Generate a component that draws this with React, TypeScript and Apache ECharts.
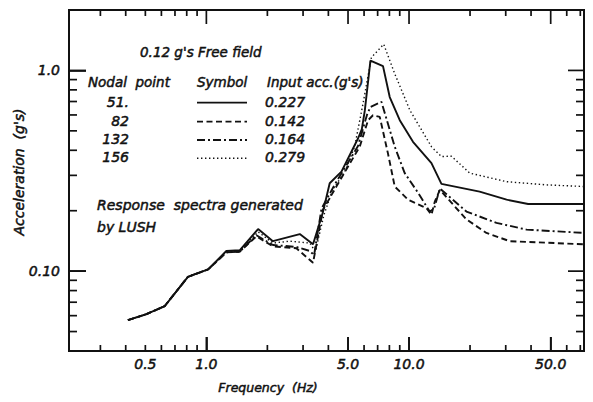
import { useEffect, useRef } from "react";
import * as echarts from "echarts";

// ---- axis ranges and tick values ----
const X_MIN = 0.21;
const X_MAX = 73;
const Y_MIN = 0.04;
const Y_MAX = 2;
const X_LABEL_VALUES = [0.5, 1, 5, 10, 50];
const X_LABEL_TEXTS = ["0.5", "1.0", "5.0", "10.0", "50.0"];
const X_MAJOR_TICKS = [1, 5, 10, 50];
const X_MINOR_TICKS = [0.3, 0.4, 0.5, 0.6, 0.7, 0.8, 0.9, 2, 3, 4, 6, 7, 8, 9, 20, 30, 40, 60, 70];
const Y_LABEL_VALUES = [0.1, 1];
const Y_LABEL_TEXTS = ["0.10", "1.0"];
const Y_MAJOR_TICKS = [0.1, 1];
const Y_MINOR_TICKS = [0.05, 0.06, 0.07, 0.08, 0.09, 0.2, 0.3, 0.4, 0.5, 0.6, 0.7, 0.8, 0.9];

// ---- legend table ----
const NODAL_POINTS = ["51.", "82", "132", "156"];
const INPUT_ACC = ["0.227", "0.142", "0.164", "0.279"];

// ---- series: [frequency Hz, acceleration g's] ----
const NODE_51: [number, number][] = [
  [0.41, 0.057], [0.506, 0.061], [0.623, 0.067], [0.811, 0.0937], [1.02, 0.102],
  [1.255, 0.126], [1.46, 0.127], [1.8, 0.162], [2.13, 0.141], [2.89, 0.153],
  [3.36, 0.136], [3.75, 0.195], [4.06, 0.274], [4.64, 0.313], [5.6, 0.458],
  [5.85, 0.51], [6.05, 0.63], [6.45, 1.12], [7.44, 1.05], [8.03, 0.737],
  [9.0, 0.565], [10.46, 0.441], [12.9, 0.345], [14.45, 0.272], [22.3, 0.249],
  [30.3, 0.227], [38.7, 0.216], [73, 0.216],
];
const NODE_82: [number, number][] = [
  [0.41, 0.057], [0.506, 0.061], [0.623, 0.067], [0.811, 0.0937], [1.02, 0.102],
  [1.255, 0.124], [1.46, 0.125], [1.765, 0.149], [2.13, 0.133], [2.78, 0.13],
  [3.36, 0.11], [3.76, 0.202], [4.38, 0.264], [5.71, 0.417], [6.28, 0.565],
  [6.64, 0.598], [7.17, 0.587], [7.87, 0.386], [8.5, 0.264], [9.89, 0.227],
  [12.2, 0.206], [12.9, 0.191], [13.4, 0.222], [14.2, 0.254], [19.2, 0.181],
  [24.1, 0.155], [31.4, 0.141], [73, 0.136],
];
const NODE_132: [number, number][] = [
  [0.41, 0.057], [0.506, 0.061], [0.623, 0.067], [0.811, 0.0937], [1.02, 0.102],
  [1.255, 0.124], [1.46, 0.125], [1.765, 0.151], [2.13, 0.135], [2.78, 0.132],
  [3.24, 0.126], [3.4, 0.12], [3.7, 0.205], [4.3, 0.27], [5.6, 0.42],
  [6.2, 0.6], [6.45, 0.658], [7.31, 0.697], [8.5, 0.417], [9.52, 0.308],
  [11.1, 0.245], [12.65, 0.198], [13.3, 0.205], [14.2, 0.258], [19.2, 0.198],
  [27.0, 0.174], [38.0, 0.161], [73, 0.155],
];
const NODE_156: [number, number][] = [
  [0.41, 0.057], [0.506, 0.061], [0.623, 0.067], [0.811, 0.0937], [1.02, 0.102],
  [1.255, 0.125], [1.46, 0.126], [1.8, 0.157], [2.13, 0.138], [2.58, 0.141],
  [3.24, 0.138], [3.45, 0.125], [3.8, 0.19], [4.2, 0.255], [4.8, 0.31],
  [5.39, 0.417], [5.93, 0.684], [6.52, 1.16], [7.5, 1.35], [8.5, 0.963],
  [10.1, 0.633], [12.9, 0.417], [14.45, 0.372], [16.2, 0.374], [19.9, 0.308],
  [30.3, 0.279], [47.7, 0.269], [73, 0.264],
];

const INK = "#111111";
const FONT = "'DejaVu Sans', Verdana, sans-serif";
const DASH_DASHED = [6, 3.5];
const DASH_DASHDOT = [8, 3, 2, 3];
const DASH_DOTTED = [1.4, 2.6];
const GRID = { left: 69, right: 9, top: 10, bottom: 51 };
const CW = 593;
const CH = 402;

function lookup(values: number[], texts: string[]) {
  return (v: number) => {
    let best = 0;
    let bestD = Infinity;
    values.forEach((t, i) => {
      const d = Math.abs(Math.log(v / t));
      if (d < bestD) {
        bestD = d;
        best = i;
      }
    });
    return texts[best];
  };
}

export default function App() {
  const ref = useRef<HTMLDivElement>(null);

  useEffect(() => {
    if (!ref.current) return;
    const chart = echarts.init(ref.current, undefined, { renderer: "svg" });

    const labelStyle = {
      color: INK,
      fontSize: 14,
      fontStyle: "italic" as const,
      fontFamily: FONT,
      textBorderColor: INK,
      textBorderWidth: 0.5,
    };

    const mk = (name: string, data: [number, number][], type: any, width: number) => ({
      name,
      type: "line",
      data,
      symbol: "none",
      showSymbol: false,
      silent: true,
      lineStyle: { color: INK, width, type },
      z: 4,
    });

    chart.setOption({
      animation: false,
      grid: {
        ...GRID, containLabel: false,
        show: true, borderColor: INK, borderWidth: 2, backgroundColor: "transparent",
      },
      xAxis: {
        type: "log", min: X_MIN, max: X_MAX,
        axisLine: { show: true, lineStyle: { color: INK, width: 2 } },
        axisTick: { show: true, inside: true, length: 14, customValues: X_MAJOR_TICKS, lineStyle: { color: INK, width: 1.7 } },
        splitLine: { show: false },
        axisLabel: { show: true, customValues: X_LABEL_VALUES, formatter: lookup(X_LABEL_VALUES, X_LABEL_TEXTS), margin: 6, ...labelStyle },
      },
      yAxis: {
        type: "log", min: Y_MIN, max: Y_MAX,
        axisLine: { show: true, lineStyle: { color: INK, width: 2 } },
        axisTick: { show: true, inside: true, length: 17, customValues: Y_MAJOR_TICKS, lineStyle: { color: INK, width: 1.7 } },
        splitLine: { show: false },
        axisLabel: { show: true, customValues: Y_LABEL_VALUES, formatter: lookup(Y_LABEL_VALUES, Y_LABEL_TEXTS), margin: 9, ...labelStyle },
      },
      series: [
        mk("51", NODE_51, "solid", 1.9),
        mk("82", NODE_82, DASH_DASHED.slice(), 1.9),
        mk("132", NODE_132, DASH_DASHDOT.slice(), 1.9),
        mk("156", NODE_156, DASH_DOTTED.slice(), 1.4),
      ],
    });

    const txt = (text: string, x: number, y: number, size: number, align = "left") => ({
      type: "text",
      x,
      y,
      silent: true,
      style: {
        text,
        fill: INK,
        stroke: INK,
        lineWidth: 0.5,
        font: `italic ${size}px ${FONT}`,
        textAlign: align,
        textVerticalAlign: "middle",
      },
    });

    const rowsY = [101.7, 120.7, 139, 157.3];
    const dashes = [null, DASH_DASHED, DASH_DASHDOT, DASH_DOTTED];
    const graphics: any[] = [
      txt("0.12 g's Free field", 140, 52, 13.5),
      txt("Nodal  point", 88, 82, 13.5),
      txt("Symbol", 197, 82, 13.5),
      txt("Input acc.(g's)", 267, 82, 13.5),
      txt("Response  spectra generated", 97, 205, 14),
      txt("by LUSH", 97, 227, 14),
      txt("Frequency  (Hz)", 268, 387, 12.5, "center"),
      {
        type: "text",
        x: 19,
        y: 172,
        rotation: Math.PI / 2,
        silent: true,
        style: {
          text: "Acceleration  (g's)",
          fill: INK,
          stroke: INK,
          lineWidth: 0.5,
          font: `italic 14px ${FONT}`,
          textAlign: "center",
          textVerticalAlign: "middle",
        },
      },
    ];
    NODAL_POINTS.forEach((n, i) => {
      graphics.push(txt(n, 129, rowsY[i], 14, "right"));
      graphics.push(txt(INPUT_ACC[i], 265, rowsY[i], 14));
      graphics.push({
        type: "line",
        silent: true,
        shape: { x1: 197, y1: rowsY[i] + 1, x2: 247, y2: rowsY[i] + 1 },
        style: { stroke: INK, lineWidth: i === 3 ? 1.4 : 1.8, lineDash: dashes[i] ? dashes[i].slice() : null },
      });
    });

    // ---- tick marks: positions from the chart's log scales (with a log-mapping fallback) ----
    const left = GRID.left;
    const right = CW - GRID.right;
    const top = GRID.top;
    const bottom = CH - GRID.bottom;
    const xPix = (v: number) => {
      let p: any = null;
      try {
        p = chart.convertToPixel({ xAxisIndex: 0 }, v);
      } catch (e) {
        p = null;
      }
      if (typeof p === "number" && isFinite(p)) return p;
      return left + ((right - left) * Math.log(v / X_MIN)) / Math.log(X_MAX / X_MIN);
    };
    const yPix = (v: number) => {
      let p: any = null;
      try {
        p = chart.convertToPixel({ yAxisIndex: 0 }, v);
      } catch (e) {
        p = null;
      }
      if (typeof p === "number" && isFinite(p)) return p;
      return bottom - ((bottom - top) * Math.log(v / Y_MIN)) / Math.log(Y_MAX / Y_MIN);
    };
    const tick = (x1: number, y1: number, x2: number, y2: number) => ({
      type: "polyline",
      silent: true,
      z: 50,
      shape: { points: [[x1, y1], [x2, y2]] },
      style: { stroke: INK, lineWidth: 1.7, fill: null },
    });
    const addX = (vals: number[], len: number) =>
      vals.forEach((v) => {
        const x = xPix(v);
        graphics.push(tick(x, bottom, x, bottom - len));
        graphics.push(tick(x, top, x, top + len));
      });
    const addY = (vals: number[], lenL: number, lenR: number) =>
      vals.forEach((v) => {
        const y = yPix(v);
        graphics.push(tick(left, y, left + lenL, y));
        graphics.push(tick(right, y, right - lenR, y));
      });
    addX(X_MAJOR_TICKS, 14);
    addX(X_MINOR_TICKS, 6);
    addY(Y_MAJOR_TICKS, 17, 16);
    addY(Y_MINOR_TICKS, 8, 8);

    chart.setOption({ graphic: graphics });

    return () => chart.dispose();
  }, []);

  return (
    <div
      ref={ref}
      style={{ position: "fixed", left: 0, top: 0, width: CW, height: CH, background: "#fff" }}
    />
  );
}
